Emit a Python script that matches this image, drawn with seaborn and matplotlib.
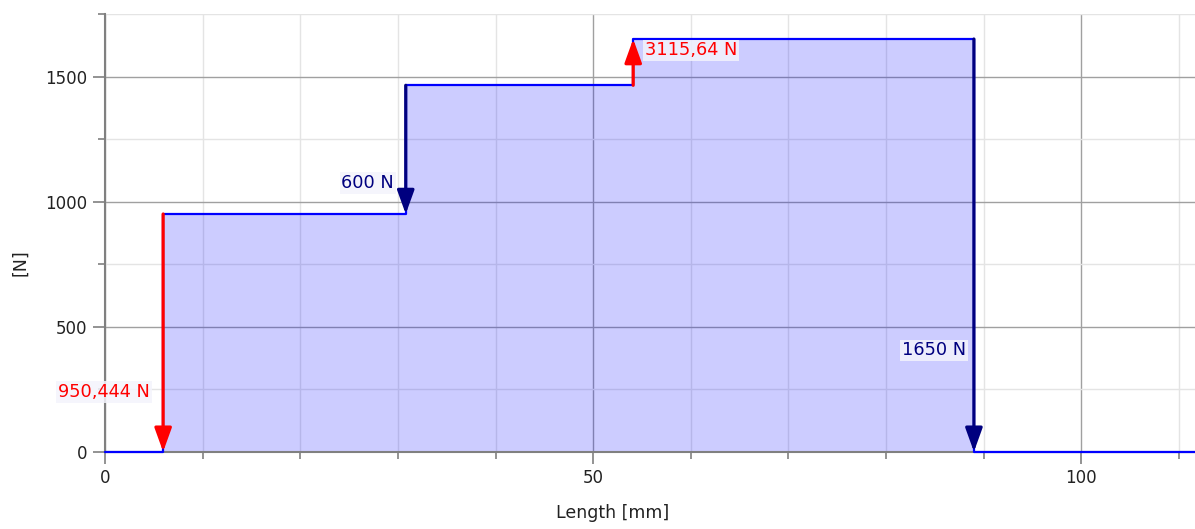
import matplotlib
matplotlib.use("Agg")
import matplotlib.pyplot as plt
import seaborn as sns
import pandas as pd
from matplotlib.ticker import MultipleLocator

# shear force steps (x in mm, value in N), post-step
positions = [0, 5.95, 30.8, 54.1, 89.0, 112]
shear = [0, 950.444, 1465, 1650, 0, 0]

# load arrows: x, from, to, colour, label, label x, label y, ha
arrow_x = [5.95, 30.8, 54.1, 89.0]
arrow_from = [950.444, 1465, 1465, 1650]
arrow_to = [0, 950.444, 1650, 0]
arrow_col = ['#ff0000', '#00007f', '#ff0000', '#00007f']
labels = ['950,444 N', '600 N', '3115,64 N', '1650 N']
label_x = [4.6, 29.6, 55.3, 88.2]
label_y = [240, 1075, 1605, 405]
label_ha = ['right', 'right', 'left', 'right']

df = pd.DataFrame({'Length [mm]': positions, '[N]': shear})

sns.set_style('white')
plt.rcParams['font.family'] = ['DejaVu Sans']

fig = plt.figure(figsize=(11.95, 5.29), dpi=100)
ax = fig.add_axes([0.0879, 0.146, 0.915, 0.8275])

ax.fill_between(positions, shear, step='post', color='#0000ff', alpha=0.2, lw=0, zorder=1)
sns.lineplot(data=df, x='Length [mm]', y='[N]', drawstyle='steps-post', estimator=None,
             color='#0000ff', lw=1.6, ax=ax, zorder=3, clip_on=False)

for x, y0, y1, c in zip(arrow_x, arrow_from, arrow_to, arrow_col):
    ax.annotate('', xy=(x, y1), xytext=(x, y0), annotation_clip=False,
                arrowprops=dict(arrowstyle='-|>,head_length=0.72,head_width=0.26',
                                mutation_scale=20, lw=2.3, color=c,
                                shrinkA=0, shrinkB=0), zorder=4)

for t, x, y, ha, c in zip(labels, label_x, label_y, label_ha, arrow_col):
    ax.text(x, y, t, color=c, ha=ha, va='center', fontsize=12.8, zorder=5,
            bbox=dict(boxstyle='square,pad=0.1', fc='#f4f4fc', ec='none', alpha=0.85))

ax.set_xlim(0, 112)
ax.set_ylim(0, 1750)
ax.xaxis.set_major_locator(MultipleLocator(50))
ax.xaxis.set_minor_locator(MultipleLocator(10))
ax.yaxis.set_major_locator(MultipleLocator(500))
ax.yaxis.set_minor_locator(MultipleLocator(250))

ax.grid(True, which='major', color='#a0a0a0', lw=1.0, zorder=0)
ax.grid(True, which='minor', color='#e4e4e4', lw=1.0, zorder=0)
ax.set_axisbelow(True)

for s in ['top', 'right']:
    ax.spines[s].set_visible(False)
for s in ['left', 'bottom']:
    ax.spines[s].set_color('#808080')
    ax.spines[s].set_linewidth(1.5)

ax.tick_params(which='major', length=8.6, width=1.2, color='#808080', pad=4,
               labelsize=12, labelcolor='#222222')
ax.tick_params(which='minor', length=5, width=1.2, color='#808080')
ax.tick_params(axis='y', which='both', left=True)
ax.tick_params(axis='x', which='both', bottom=True)

ax.set_xlabel('Length [mm]', fontsize=12.5, color='#222222')
ax.set_ylabel('[N]', fontsize=12.5, color='#222222')
ax.xaxis.label.set_va('center')
ax.xaxis.set_label_coords(0.464, -0.14)
ax.yaxis.set_label_coords(-0.069, 0.433)

fig.savefig('out.png', dpi=100)
